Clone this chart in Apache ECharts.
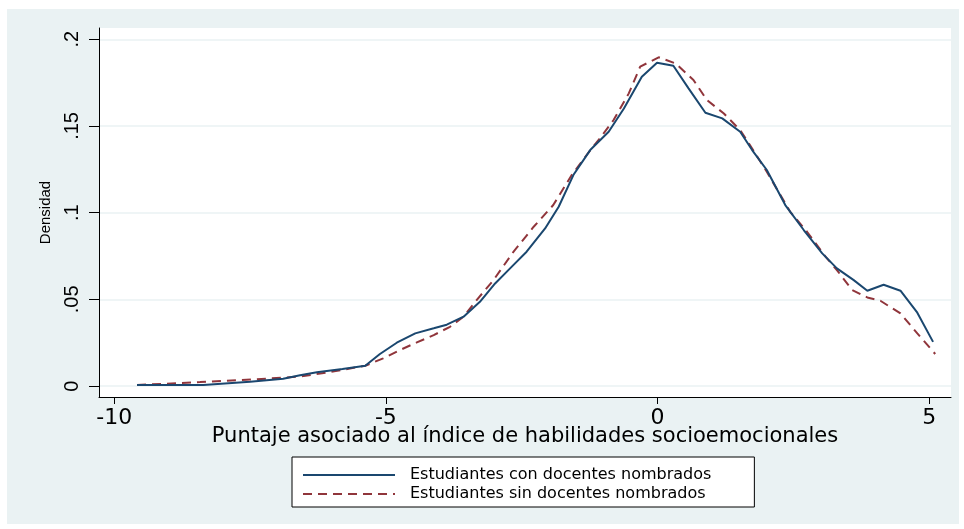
<!DOCTYPE html>
<html>
<head>
<meta charset="utf-8">
<script src="https://cdn.jsdelivr.net/npm/echarts@6/dist/echarts.min.js"></script>
<style>html,body{margin:0;padding:0;background:#fff;}#c{width:964px;height:529px;}</style>
</head>
<body>
<div id="c"></div>
<script>
// ---- data ----
const seriesNames = ['Estudiantes con docentes nombrados', 'Estudiantes sin docentes nombrados'];
const xTicks = [-10, -5, 0, 5];
const yTicks = [0, 0.05, 0.1, 0.15, 0.2];
const yTickLabels = ['0', '.05', '.1', '.15', '.2'];
const xTitle = 'Puntaje asociado al índice de habilidades socioemocionales';
const yTitle = 'Densidad';

const conX = [-9.58, -8.36, -7.5, -6.89, -6.58, -6.27, -5.8, -5.38, -5.11, -4.80, -4.46, -4.12, -3.88, -3.57, -3.27, -2.99, -2.71, -2.41, -2.07, -1.82, -1.55, -1.24, -0.90, -0.62, -0.29, -0.01, 0.29, 0.57, 0.88, 1.19, 1.52, 1.74, 2.01, 2.35, 2.69, 3.03, 3.30, 3.61, 3.86, 4.16, 4.47, 4.78, 5.07];
const conY = [0.0006, 0.0006, 0.0025, 0.0042, 0.0062, 0.0080, 0.0098, 0.0117, 0.0185, 0.0250, 0.0304, 0.0333, 0.0354, 0.0400, 0.0486, 0.0592, 0.0680, 0.0775, 0.0909, 0.1034, 0.1217, 0.1361, 0.1467, 0.1601, 0.1784, 0.1865, 0.1847, 0.1717, 0.1576, 0.1544, 0.1467, 0.1361, 0.1246, 0.1044, 0.0900, 0.0765, 0.0679, 0.0611, 0.0550, 0.0584, 0.0550, 0.0423, 0.0255];

const sinX = [-9.58, -8.42, -7.38, -6.58, -5.95, -5.38, -5.05, -4.74, -4.43, -4.12, -3.82, -3.57, -3.33, -3.02, -2.65, -2.28, -1.92, -1.58, -1.24, -1.06, -0.81, -0.53, -0.32, 0.02, 0.33, 0.66, 0.91, 1.22, 1.52, 1.74, 2.01, 2.44, 2.75, 3.09, 3.30, 3.58, 3.86, 4.10, 4.47, 4.78, 5.11];
const sinY = [0.0006, 0.0023, 0.0039, 0.0055, 0.0085, 0.0117, 0.0160, 0.0208, 0.0252, 0.0294, 0.0342, 0.0400, 0.0496, 0.0611, 0.0775, 0.0919, 0.1044, 0.1217, 0.1360, 0.1429, 0.1534, 0.1688, 0.1842, 0.1896, 0.1861, 0.1765, 0.1649, 0.1572, 0.1476, 0.1370, 0.1236, 0.1005, 0.0890, 0.0746, 0.0669, 0.0554, 0.0511, 0.0492, 0.0419, 0.0304, 0.0185];

// ---- chart ----
const chart = echarts.init(document.getElementById('c'), null, {renderer: 'canvas'});
const pairs = (xs, ys) => xs.map((x, i) => [x, ys[i]]);
const bg = '#EAF2F3';

chart.setOption({
  animation: false,
  backgroundColor: '#ffffff',
  graphic: [{
    type: 'rect', z: -10, silent: true,
    shape: {x: 7, y: 9, width: 952, height: 515},
    style: {fill: bg}
  }],
  grid: {left: 99, right: 13, top: 28, bottom: 132, show: true, backgroundColor: '#ffffff', borderWidth: 0},
  xAxis: {
    type: 'value', min: -10.28, max: 5.40,
    name: xTitle, nameLocation: 'middle', nameGap: 29, nameMoveOverlap: false,
    nameTextStyle: {fontFamily: 'DejaVu Sans', fontSize: 21, color: '#000'},
    axisLine: {show: true, onZero: false, lineStyle: {color: '#000', width: 1}},
    axisTick: {show: true, length: 7, customValues: xTicks, lineStyle: {color: '#000'}},
    axisLabel: {customValues: xTicks, fontFamily: 'DejaVu Sans', fontSize: 22, color: '#000', margin: 10},
    splitLine: {show: false}
  },
  yAxis: {
    type: 'value', min: -0.0063, max: 0.2065,
    name: yTitle, nameLocation: 'middle', nameGap: 46, nameRotate: 90, nameMoveOverlap: false,
    nameTextStyle: {fontFamily: 'Liberation Sans', fontSize: 15, color: '#000'},
    axisLine: {show: true, onZero: false, lineStyle: {color: '#000', width: 1}},
    axisTick: {show: true, length: 10, customValues: yTicks, lineStyle: {color: '#000'}},
    axisLabel: {
      customValues: yTicks, rotate: 90, fontFamily: 'Liberation Sans', fontSize: 20, color: '#000', margin: 17,
      formatter: v => { const i = yTicks.findIndex(t => Math.abs(t - v) < 1e-9); return i >= 0 ? yTickLabels[i] : ''; }
    },
    splitLine: {show: true, lineStyle: {color: bg, width: 1.5}}
  },
  legend: {
    show: true, orient: 'vertical', left: 292, top: 457,
    backgroundColor: '#ffffff', borderColor: '#000', borderWidth: 1, borderRadius: 0,
    padding: [10, 43, 5, 10], itemGap: 3, itemWidth: 92, itemHeight: 14,
    itemStyle: {opacity: 0},
    textStyle: {fontFamily: 'DejaVu Sans', fontSize: 16, color: '#000', padding: [0, 0, 0, 10]},
    data: seriesNames
  },
  series: [
    {
      name: seriesNames[0], type: 'line', data: pairs(conX, conY), showSymbol: false, symbol: 'none',
      lineStyle: {color: '#1A476F', width: 2}, itemStyle: {color: '#1A476F'}, z: 3
    },
    {
      name: seriesNames[1], type: 'line', data: pairs(sinX, sinY), showSymbol: false, symbol: 'none',
      lineStyle: {color: '#90353B', width: 2, type: [9, 6]}, itemStyle: {color: '#90353B'}, z: 2
    }
  ]
});
</script>
</body>
</html>
